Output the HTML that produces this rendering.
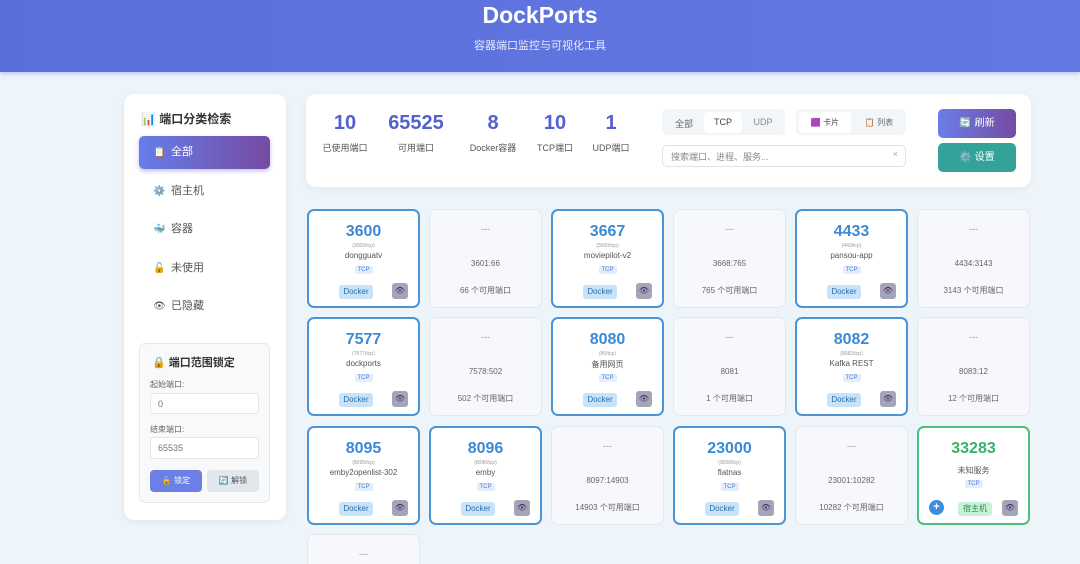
<!DOCTYPE html>
<html style="width:1080px;height:564px;overflow:hidden"><head><meta charset="utf-8"><style>
*{box-sizing:border-box;margin:0;padding:0}
body{width:1080px;height:564px;overflow:hidden;background:#edf5fb;font-family:"Liberation Sans","Noto Sans CJK SC",sans-serif;position:relative;color:#444}
.a{position:absolute}
.hdr{left:0;top:0;width:1080px;height:72px;background:linear-gradient(90deg,#5b6fdb,#6478e4);box-shadow:0 2px 4px rgba(80,100,200,.3)}
.c{text-align:center}
.panel{background:#fff;border-radius:10px;box-shadow:0 2px 8px rgba(0,0,0,.06)}
.mi{left:139px;width:131px;height:33px;font-size:11px;color:#555;line-height:33px;padding-left:14px}
.mi span{display:inline-block;width:18px;font-size:10px}
.card{width:113px;height:99px;border-radius:7px}
.u{background:#fff;border:2px solid #4b94d6}
.f{background:#f6f8fb;border:1px solid #e3e8ee}
.card div{position:absolute;left:0;width:100%;text-align:center}
.n{font-size:16px;font-weight:bold;color:#3b8ad6}
.s{font-size:5px;color:#999}
.nm{font-size:8px;color:#555}
.t{font-size:6px;color:#4a7bd0}
.t b{font-weight:normal;background:#e3eefc;padding:1px 3px;border-radius:2px}
.dk{left:30px!important;width:34px!important;height:14px;background:#c6e3fa;color:#2f6ea8;font-size:8px;line-height:14px;border-radius:3px}
.eye{left:auto!important;right:10px;width:16px!important;height:16px;background:#a3a6b8;border-radius:3px;color:#5a2d6a;font-size:8px;line-height:16px}
.fd{font-size:9px;color:#999}
.fr{font-size:8px;color:#666}
.fc{font-size:8px;color:#666}
</style></head><body>
<div class="a hdr"></div>
<div class="a c" style="left:0;width:1080px;top:2px;font-size:23px;font-weight:bold;color:#fff">DockPorts</div>
<div class="a c" style="left:0;width:1080px;top:37px;font-size:11px;color:#e6e9fb">容器端口监控与可视化工具</div>

<div class="a panel" style="left:124px;top:94px;width:162px;height:426px"></div>
<div class="a" style="left:141px;top:110px;font-size:12px;font-weight:bold;color:#333">📊 端口分类检索</div>
<div class="a mi" style="top:136px;background:linear-gradient(90deg,#667eea,#764ba2);border-radius:5px;color:#fff;box-shadow:0 2px 5px rgba(100,90,200,.4)"><span>📋</span>全部</div>
<div class="a mi" style="top:175px"><span>⚙️</span>宿主机</div>
<div class="a mi" style="top:213px"><span>🐳</span>容器</div>
<div class="a mi" style="top:252px"><span>🔓</span>未使用</div>
<div class="a mi" style="top:290px"><span>👁</span>已隐藏</div>
<div class="a" style="left:139px;top:343px;width:131px;height:160px;background:#f7f9fb;border:1px solid #e5e9ee;border-radius:6px"></div>
<div class="a" style="left:152px;top:354px;font-size:11px;font-weight:bold;color:#333">🔒 端口范围锁定</div>
<div class="a" style="left:150px;top:379px;font-size:8px;color:#666">起始端口:</div>
<div class="a" style="left:150px;top:393px;width:109px;height:21px;background:#fff;border:1px solid #e3e6ea;border-radius:4px;font-size:9px;color:#777;padding:5px 7px">0</div>
<div class="a" style="left:150px;top:424px;font-size:8px;color:#666">结束端口:</div>
<div class="a" style="left:150px;top:437px;width:109px;height:22px;background:#fff;border:1px solid #e3e6ea;border-radius:4px;font-size:9px;color:#777;padding:5px 7px">65535</div>
<div class="a c" style="left:150px;top:470px;width:52px;height:22px;background:#6b7fe6;border-radius:4px;color:#fff;font-size:8px;line-height:22px">🔓 锁定</div>
<div class="a c" style="left:207px;top:470px;width:52px;height:22px;background:#e2e6ed;border-radius:4px;color:#555;font-size:8px;line-height:22px">🔄 解锁</div>

<div class="a panel" style="left:306px;top:94px;width:725px;height:93px"></div>
<div class="a c" style="left:315px;width:60px;top:112px;font-size:20px;font-weight:bold;color:#5360cf">10</div>
<div class="a c" style="left:315px;width:60px;top:141px;font-size:9px;color:#555">已使用端口</div>
<div class="a c" style="left:381px;width:70px;top:112px;font-size:20px;font-weight:bold;color:#5360cf">65525</div>
<div class="a c" style="left:381px;width:70px;top:141px;font-size:9px;color:#555">可用端口</div>
<div class="a c" style="left:463px;width:60px;top:112px;font-size:20px;font-weight:bold;color:#5360cf">8</div>
<div class="a c" style="left:463px;width:60px;top:141px;font-size:9px;color:#555">Docker容器</div>
<div class="a c" style="left:525px;width:60px;top:112px;font-size:20px;font-weight:bold;color:#5360cf">10</div>
<div class="a c" style="left:525px;width:60px;top:141px;font-size:9px;color:#555">TCP端口</div>
<div class="a c" style="left:581px;width:60px;top:112px;font-size:20px;font-weight:bold;color:#5360cf">1</div>
<div class="a c" style="left:581px;width:60px;top:141px;font-size:9px;color:#555">UDP端口</div>

<div class="a" style="left:662px;top:109px;width:123px;height:26px;background:#f3f6f9;border-radius:5px"></div>
<div class="a c" style="left:668px;top:117px;width:32px;font-size:9px;color:#666">全部</div>
<div class="a c" style="left:704px;top:112px;width:38px;height:21px;background:#fff;border-radius:4px;font-size:9px;color:#444;line-height:21px">TCP</div>
<div class="a c" style="left:745px;top:117px;width:36px;font-size:9px;color:#888">UDP</div>
<div class="a" style="left:796px;top:109px;width:110px;height:26px;background:#f3f6f9;border-radius:5px"></div>
<div class="a c" style="left:799px;top:112px;width:52px;height:21px;background:#fff;border-radius:4px;font-size:8px;color:#444;line-height:21px">🟪 卡片</div>
<div class="a c" style="left:855px;top:117px;width:48px;font-size:8px;color:#666">📋 列表</div>
<div class="a" style="left:662px;top:145px;width:244px;height:22px;background:#fff;border:1px solid #dde3ea;border-radius:5px;font-size:9px;color:#888;padding:4px 8px">搜索端口、进程、服务...<span style="position:absolute;right:7px;top:3px;color:#aaa">×</span></div>
<div class="a c" style="left:938px;top:109px;width:78px;height:29px;background:linear-gradient(90deg,#6b7ee8,#764ba2);border-radius:5px;color:#fff;font-size:10px;line-height:29px">🔄 刷新</div>
<div class="a c" style="left:938px;top:143px;width:78px;height:29px;background:#33a39a;border-radius:5px;color:#fff;font-size:10px;line-height:29px">⚙️ 设置</div>

<div class="a card u" style="left:307px;top:209px"><div class="n" style="top:12px">3600</div><div class="s" style="top:32px">(3000/tcp)</div><div class="nm" style="top:40px">dongguatv</div><div class="t" style="top:56px"><b>TCP</b></div><div class="dk" style="top:74px">Docker</div><div class="eye" style="top:72px">👁</div></div>
<div class="a card f" style="left:429px;top:209px"><div class="fd" style="top:14px">---</div><div class="fr" style="top:49px">3601:66</div><div class="fc" style="top:75px">66 个可用端口</div></div>
<div class="a card u" style="left:551px;top:209px"><div class="n" style="top:12px">3667</div><div class="s" style="top:32px">(3000/tcp)</div><div class="nm" style="top:40px">moviepilot-v2</div><div class="t" style="top:56px"><b>TCP</b></div><div class="dk" style="top:74px">Docker</div><div class="eye" style="top:72px">👁</div></div>
<div class="a card f" style="left:673px;top:209px"><div class="fd" style="top:14px">---</div><div class="fr" style="top:49px">3668:765</div><div class="fc" style="top:75px">765 个可用端口</div></div>
<div class="a card u" style="left:795px;top:209px"><div class="n" style="top:12px">4433</div><div class="s" style="top:32px">(443/tcp)</div><div class="nm" style="top:40px">pansou-app</div><div class="t" style="top:56px"><b>TCP</b></div><div class="dk" style="top:74px">Docker</div><div class="eye" style="top:72px">👁</div></div>
<div class="a card f" style="left:917px;top:209px"><div class="fd" style="top:14px">---</div><div class="fr" style="top:49px">4434:3143</div><div class="fc" style="top:75px">3143 个可用端口</div></div>

<div class="a card u" style="left:307px;top:317px"><div class="n" style="top:12px">7577</div><div class="s" style="top:32px">(7577/tcp)</div><div class="nm" style="top:40px">dockports</div><div class="t" style="top:56px"><b>TCP</b></div><div class="dk" style="top:74px">Docker</div><div class="eye" style="top:72px">👁</div></div>
<div class="a card f" style="left:429px;top:317px"><div class="fd" style="top:14px">---</div><div class="fr" style="top:49px">7578:502</div><div class="fc" style="top:75px">502 个可用端口</div></div>
<div class="a card u" style="left:551px;top:317px"><div class="n" style="top:12px">8080</div><div class="s" style="top:32px">(80/tcp)</div><div class="nm" style="top:40px">备用网页</div><div class="t" style="top:56px"><b>TCP</b></div><div class="dk" style="top:74px">Docker</div><div class="eye" style="top:72px">👁</div></div>
<div class="a card f" style="left:673px;top:317px"><div class="fd" style="top:14px">---</div><div class="fr" style="top:49px">8081</div><div class="fc" style="top:75px">1 个可用端口</div></div>
<div class="a card u" style="left:795px;top:317px"><div class="n" style="top:12px">8082</div><div class="s" style="top:32px">(8082/tcp)</div><div class="nm" style="top:40px">Kafka REST</div><div class="t" style="top:56px"><b>TCP</b></div><div class="dk" style="top:74px">Docker</div><div class="eye" style="top:72px">👁</div></div>
<div class="a card f" style="left:917px;top:317px"><div class="fd" style="top:14px">---</div><div class="fr" style="top:49px">8083:12</div><div class="fc" style="top:75px">12 个可用端口</div></div>

<div class="a card u" style="left:307px;top:426px"><div class="n" style="top:12px">8095</div><div class="s" style="top:32px">(8095/tcp)</div><div class="nm" style="top:40px">emby2openlist-302</div><div class="t" style="top:56px"><b>TCP</b></div><div class="dk" style="top:74px">Docker</div><div class="eye" style="top:72px">👁</div></div>
<div class="a card u" style="left:429px;top:426px"><div class="n" style="top:12px">8096</div><div class="s" style="top:32px">(8096/tcp)</div><div class="nm" style="top:40px">emby</div><div class="t" style="top:56px"><b>TCP</b></div><div class="dk" style="top:74px">Docker</div><div class="eye" style="top:72px">👁</div></div>
<div class="a card f" style="left:551px;top:426px"><div class="fd" style="top:14px">---</div><div class="fr" style="top:49px">8097:14903</div><div class="fc" style="top:75px">14903 个可用端口</div></div>
<div class="a card u" style="left:673px;top:426px"><div class="n" style="top:12px">23000</div><div class="s" style="top:32px">(3000/tcp)</div><div class="nm" style="top:40px">flatnas</div><div class="t" style="top:56px"><b>TCP</b></div><div class="dk" style="top:74px">Docker</div><div class="eye" style="top:72px">👁</div></div>
<div class="a card f" style="left:795px;top:426px"><div class="fd" style="top:14px">---</div><div class="fr" style="top:49px">23001:10282</div><div class="fc" style="top:75px">10282 个可用端口</div></div>
<div class="a card u" style="left:917px;top:426px;border-color:#4cc07a"><div class="n" style="top:12px;color:#3cb06a">33283</div><div class="nm" style="top:37px">未知服务</div><div class="t" style="top:53px"><b>TCP</b></div><div style="left:10px!important;width:15px!important;top:72px;height:15px;border-radius:50%;background:#3b8ee0;color:#fff;font-size:11px;line-height:15px;font-weight:bold">+</div><div class="dk" style="top:74px;left:39px!important;background:#c8f1d6;color:#2d8a50">宿主机</div><div class="eye" style="top:72px">👁</div></div>

<div class="a card f" style="left:307px;top:534px;height:30px;border-bottom:none;border-radius:7px 7px 0 0"><div class="fd" style="top:14px">---</div></div>
</body></html>
